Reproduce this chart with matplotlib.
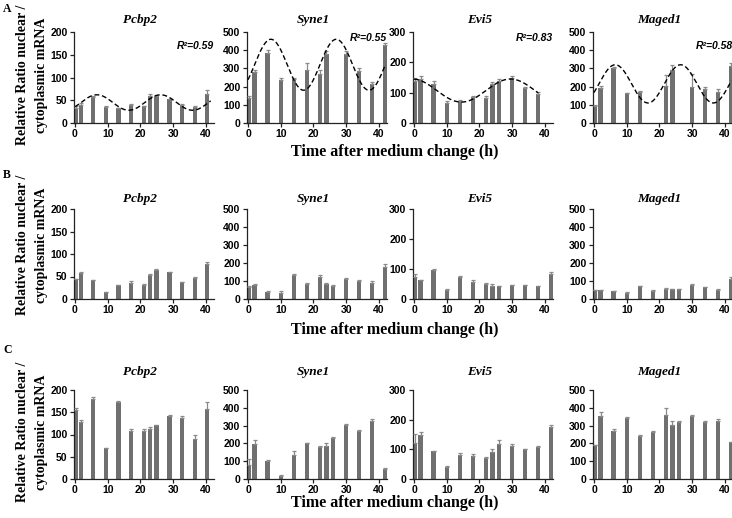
import matplotlib
matplotlib.use("Agg")
import matplotlib.pyplot as plt
import numpy as np

W, H = 732, 518

genes = ["Pcbp2", "Syne1", "Evi5", "Maged1"]
y_max = [200, 500, 300, 500]
y_step = [50, 100, 100, 100]

# sampling times (h)
hours = [0.4, 2, 6, 10, 14, 18, 22, 24, 26, 30, 34, 38, 41.8]
hours_pcbp2 = [0.3, 1.9, 5.5, 9.4, 13.3, 17.2, 21.1, 23.0, 24.9, 28.9, 32.8, 36.7, 40.3]
hours_syne1_a = [0.4, 2, 6, 10, 14, 18, 22, 24, 30, 34, 38, 41.8]
hours_evi5_a = [0.4, 2, 6, 10, 14, 18, 22, 24, 26, 30, 34, 38]
hours_maged1_a = [0.4, 2, 6, 10, 14, 22, 24, 30, 34, 38, 41.8]

# A
pcbp2_a = [32, 40, 57, 35, 32, 40, 37, 59, 59, 52, 40, 35, 64]
pcbp2_a_err = [6, 4, 2, 2, 2, 1, 1, 5, 3, 1, 1, 2, 8]
syne1_a = [140, 278, 384, 238, 242, 293, 271, 380, 380, 285, 215, 430]
syne1_a_err = [10, 12, 15, 12, 3, 35, 18, 15, 18, 15, 13, 12]
evi5_a = [140, 145, 130, 65, 72, 85, 82, 128, 140, 150, 115, 95]
evi5_a_err = [8, 10, 8, 6, 4, 5, 8, 8, 5, 6, 4, 6]
maged1_a = [94, 190, 300, 164, 173, 205, 290, 198, 185, 170, 315]
maged1_a_err = [6, 15, 6, 3, 3, 58, 28, 70, 15, 18, 12]

# B
pcbp2_b = [44, 57, 42, 15, 31, 36, 32, 53, 65, 59, 37, 46, 78]
pcbp2_b_err = [1, 4, 1, 1, 1, 3, 1, 2, 1, 1, 1, 4, 4]
syne1_b = [68, 80, 40, 35, 132, 85, 125, 82, 72, 110, 100, 90, 178]
syne1_b_err = [7, 3, 5, 10, 8, 5, 7, 6, 6, 5, 3, 8, 17]
evi5_b = [72, 62, 98, 30, 74, 56, 50, 44, 44, 47, 46, 42, 84]
evi5_b_err = [11, 2, 2, 3, 4, 6, 2, 6, 1, 1, 1, 1, 6]
maged1_b = [50, 50, 42, 35, 72, 45, 58, 55, 56, 80, 64, 50, 110]
maged1_b_err = [2, 2, 3, 3, 2, 4, 2, 2, 2, 2, 2, 3, 12]

# C
pcbp2_c = [154, 128, 179, 69, 172, 108, 107, 112, 121, 142, 136, 91, 158]
pcbp2_c_err = [6, 4, 6, 1, 4, 5, 5, 4, 1, 2, 5, 8, 15]
syne1_c = [78, 198, 102, 18, 137, 202, 178, 185, 228, 305, 268, 325, 58]
syne1_c_err = [37, 22, 2, 2, 23, 3, 7, 15, 10, 2, 7, 13, 2]
evi5_c = [120, 150, 95, 42, 80, 78, 72, 91, 118, 112, 100, 108, 175]
evi5_c_err = [32, 7, 1, 1, 8, 7, 1, 9, 15, 6, 2, 4, 7]
maged1_c = [189, 353, 270, 340, 243, 266, 360, 305, 318, 355, 318, 328, 207]
maged1_c_err = [2, 22, 13, 7, 7, 2, 40, 20, 10, 7, 7, 7, 2]

# cosinor fits shown in row A
fit_mesor = [45, 320, 107, 215]
fit_amp = [17, 140, 38, 105]
fit_period = [19.5, 20, 30, 20]
fit_peak = [6.7, 7, 29.5, 6.5]
fit_end = [41.5, 42, 38, 42]
r_squared = ["0.59", "0.55", "0.83", "0.58"]

rows = [
    [(hours_pcbp2, pcbp2_a, pcbp2_a_err), (hours_syne1_a, syne1_a, syne1_a_err),
     (hours_evi5_a, evi5_a, evi5_a_err), (hours_maged1_a, maged1_a, maged1_a_err)],
    [(hours_pcbp2, pcbp2_b, pcbp2_b_err), (hours, syne1_b, syne1_b_err),
     (hours, evi5_b, evi5_b_err), (hours, maged1_b, maged1_b_err)],
    [(hours_pcbp2, pcbp2_c, pcbp2_c_err), (hours, syne1_c, syne1_c_err),
     (hours, evi5_c, evi5_c_err), (hours, maged1_c, maged1_c_err)],
]

serif = "Liberation Serif"
sans = "Liberation Sans"
bar_grey = "#707070"
err_grey = "#8a8a8a"

# layout in pixels
col_x0 = [75, 248, 414, 594]       # pixel of x = 0
px_per_h = 3.27
x_lo, x_hi = -0.4, 42.6
row_top = [32, 209, 390]
row_bot = [123, 299, 479]
title_y = [20, 199, 372]
xlab_y = [152, 330, 503]
ylab_y = [75, 245, 432]
letter_y = [9, 175, 350]
letters = ["A", "B", "C"]

fig = plt.figure(figsize=(W / 100, H / 100), dpi=100)

for r, panels in enumerate(rows):
    for c, (t, vals, err) in enumerate(panels):
        left = col_x0[c] + x_lo * px_per_h
        width = (x_hi - x_lo) * px_per_h
        ax = fig.add_axes([left / W, 1 - row_bot[r] / H, width / W,
                           (row_bot[r] - row_top[r]) / H])
        ax.bar(t, vals, width=1.3, color=bar_grey, zorder=2)
        ax.errorbar(t, vals, yerr=[np.zeros(len(err)), err], fmt="none",
                    ecolor=err_grey, elinewidth=0.9, capsize=1.6,
                    capthick=0.9, zorder=3)
        if r == 0:
            xs = np.linspace(0, fit_end[c], 300)
            ys = fit_mesor[c] + fit_amp[c] * np.cos(2 * np.pi * (xs - fit_peak[c]) / fit_period[c])
            ax.plot(xs, ys, color="black", ls=(0, (3.5, 2)), lw=1.0, zorder=4)
            ax.text(1.0, 0.85 if c in (0, 3) else 0.93, "R\u00b2=" + r_squared[c],
                    transform=ax.transAxes, ha="right", va="center",
                    fontsize=7.5, fontweight="bold", style="italic", family=sans)
        ax.set_xlim(x_lo, x_hi)
        ax.set_ylim(0, y_max[c])
        ax.set_xticks([0, 10, 20, 30, 40])
        ax.set_yticks(np.arange(0, y_max[c] + 1, y_step[c]))
        for s in ["top", "right"]:
            ax.spines[s].set_visible(False)
        for s in ["left", "bottom"]:
            ax.spines[s].set_linewidth(0.9)
            ax.spines[s].set_color("#222222")
        ax.tick_params(length=3, width=0.9, pad=1.5, labelsize=7.5, colors="#222222")
        for lab in ax.get_xticklabels() + ax.get_yticklabels():
            lab.set_fontweight("bold")
            lab.set_family(sans)
            lab.set_color("black")
        ax.patch.set_visible(False)
        fig.text((col_x0[c] + 20 * px_per_h) / W, 1 - title_y[r] / H, genes[c],
                 ha="center", va="center", fontsize=9.5, fontweight="bold",
                 style="italic", family=serif)

    fig.text(395 / W, 1 - xlab_y[r] / H, "Time after medium change (h)",
             ha="center", va="center", fontsize=11.5, fontweight="bold", family=serif)
    fig.text(32 / W, 1 - ylab_y[r] / H, "Relative Ratio nuclear /\ncytoplasmic mRNA",
             ha="center", va="center", rotation=90, fontsize=10, fontweight="bold",
             family=serif, linespacing=1.6, multialignment="center")
    fig.text(3 / W, 1 - letter_y[r] / H, letters[r], ha="left", va="center",
             fontsize=8.5, fontweight="bold", family=serif)

fig.savefig("out.png", dpi=100)
